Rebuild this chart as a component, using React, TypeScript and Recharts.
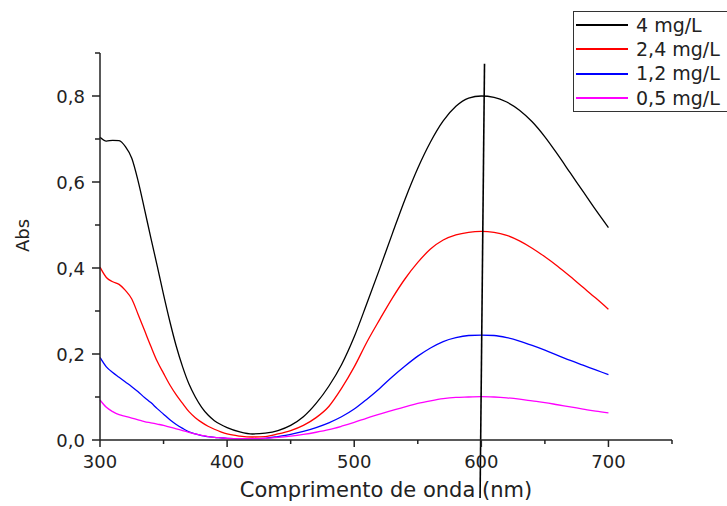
import { LineChart, Line, XAxis, YAxis, ReferenceLine } from 'recharts';

const wavelength = [
  300, 305, 310, 315, 320, 325, 330, 335, 340, 345, 350, 355, 360, 365, 370, 375, 380, 385, 390, 395, 400,
  410, 420, 430, 440, 450, 460, 470, 480, 490, 500, 510, 520, 530, 540, 550, 560, 570, 580, 590, 600,
  610, 620, 630, 640, 650, 660, 670, 680, 690, 700
];

const abs4 = [
  0.704, 0.695, 0.697, 0.696, 0.682, 0.655, 0.602, 0.537, 0.470, 0.405, 0.338, 0.275, 0.218, 0.170, 0.130, 0.100, 0.076, 0.058, 0.045, 0.036, 0.029,
  0.019, 0.014, 0.016, 0.022, 0.034, 0.054, 0.085, 0.125, 0.175, 0.240,
  0.318, 0.398, 0.480, 0.560, 0.632, 0.693, 0.742, 0.776, 0.795, 0.800,
  0.797, 0.786, 0.767, 0.740, 0.705, 0.664, 0.621, 0.578, 0.535, 0.494
];

const abs24 = [
  0.402, 0.378, 0.368, 0.362, 0.348, 0.328, 0.292, 0.255, 0.218, 0.183, 0.155, 0.128, 0.105, 0.085, 0.066, 0.052, 0.041, 0.032, 0.025, 0.019, 0.014,
  0.009, 0.007, 0.008, 0.014, 0.022, 0.034, 0.052, 0.078, 0.120, 0.170,
  0.228, 0.280, 0.330, 0.375, 0.413, 0.444, 0.465, 0.477, 0.483, 0.485,
  0.483, 0.476, 0.463, 0.446, 0.426, 0.404, 0.380, 0.355, 0.330, 0.304
];

const abs12 = [
  0.192, 0.170, 0.157, 0.146, 0.135, 0.124, 0.112, 0.099, 0.087, 0.073, 0.060, 0.047, 0.036, 0.027, 0.019, 0.014, 0.010, 0.008, 0.006, 0.005, 0.004,
  0.003, 0.003, 0.004, 0.008, 0.013, 0.020, 0.029, 0.040, 0.054, 0.072,
  0.095, 0.120, 0.147, 0.172, 0.195, 0.214, 0.229, 0.238, 0.243, 0.244,
  0.243, 0.238, 0.230, 0.220, 0.209, 0.197, 0.185, 0.174, 0.163, 0.152
];

const abs05 = [
  0.093, 0.076, 0.066, 0.059, 0.055, 0.051, 0.047, 0.043, 0.040, 0.037, 0.034, 0.030, 0.026, 0.022, 0.018, 0.014, 0.011, 0.008, 0.006, 0.005, 0.004,
  0.003, 0.003, 0.004, 0.006, 0.009, 0.013, 0.018, 0.024, 0.032, 0.041,
  0.051, 0.060, 0.069, 0.077, 0.085, 0.091, 0.096, 0.099, 0.100, 0.101,
  0.100, 0.098, 0.095, 0.091, 0.087, 0.082, 0.077, 0.072, 0.067, 0.063
];

const seriesKeys = ['c4', 'c24', 'c12', 'c05'];
const seriesNames = ['4 mg/L', '2,4 mg/L', '1,2 mg/L', '0,5 mg/L'];
const seriesColors = ['#000000', '#ff0000', '#0000ff', '#ff00ff'];

const xTicks = [300, 350, 400, 450, 500, 550, 600, 650, 700, 750];
const yTicks = [0, 0.1, 0.2, 0.3, 0.4, 0.5, 0.6, 0.7, 0.8, 0.9];

// stray vertical trace near 600 nm in the original plot
const spike = [
  { x: 602.5, y: 0.875 },
  { x: 599, y: -0.135 }
];

const FONT = '"DejaVu Sans", sans-serif';
const INK = '#222';

const data = wavelength.map((nm, i) => ({
  nm,
  c4: abs4[i],
  c24: abs24[i],
  c12: abs12[i],
  c05: abs05[i]
}));

const YTick = ({ x, y, payload }: any) => {
  const v = payload.value;
  const major = Math.round(v * 10) % 2 === 0 && v < 0.85;
  return (
    <g>
      <line x1={x} x2={x - (major ? 8 : 5)} y1={y} y2={y} stroke={INK} strokeWidth={1.5} />
      {major && (
        <text x={x - 15} y={y} textAnchor="end" dominantBaseline="central" fill={INK} fontSize={18} fontFamily={FONT}>
          {v.toFixed(1).replace('.', ',')}
        </text>
      )}
    </g>
  );
};

const XTick = ({ x, y, payload }: any) => {
  const v = payload.value;
  const major = v % 100 === 0;
  return (
    <g>
      <line x1={x} x2={x} y1={y} y2={y + (major ? 7 : 4)} stroke={INK} strokeWidth={1.5} />
      {major && (
        <text x={x} y={y + 28} textAnchor="middle" fill={INK} fontSize={18} fontFamily={FONT}>
          {v}
        </text>
      )}
    </g>
  );
};

const YTitle = ({ viewBox }: any) => {
  const cx = viewBox.x + 22;
  const cy = viewBox.y + viewBox.height / 2 - 11;
  return (
    <text x={cx} y={cy} transform={`rotate(-90 ${cx} ${cy})`} textAnchor="middle" dominantBaseline="central"
      fill={INK} fontSize={18} fontFamily={FONT}>
      Abs
    </text>
  );
};

export default function App() {
  return (
    <div style={{ position: 'absolute', left: 0, top: 0, width: 727, height: 506, overflow: 'hidden', background: '#fff' }}>
      <LineChart width={727} height={506} data={data} margin={{ top: 53, right: 55, bottom: 0, left: 0 }}>
        <XAxis
          dataKey="nm"
          type="number"
          domain={[300, 750]}
          ticks={xTicks}
          height={66}
          stroke={INK}
          strokeWidth={1.5}
          tickLine={false}
          tickSize={0}
          tickMargin={0}
          tick={(p: any) => <XTick {...p} />}
          label={{ value: 'Comprimento de onda (nm)', position: 'insideBottom', offset: 9, style: { fontSize: 21, fontFamily: FONT, fill: INK } }}
        />
        <YAxis
          type="number"
          domain={[0, 0.9]}
          ticks={yTicks}
          width={100}
          stroke={INK}
          strokeWidth={1.5}
          tickLine={false}
          tickSize={0}
          tickMargin={0}
          tick={(p: any) => <YTick {...p} />}
          label={{ value: 'Abs', content: (p: any) => <YTitle {...p} /> }}
        />
        {seriesKeys.map((k, i) => (
          <Line
            key={k}
            type="monotone"
            dataKey={k}
            name={seriesNames[i]}
            stroke={seriesColors[i]}
            strokeWidth={1.3}
            dot={false}
            isAnimationActive={false}
          />
        ))}
        <ReferenceLine segment={spike} stroke="#000" strokeWidth={1.6} ifOverflow="visible" />
      </LineChart>
      <div
        style={{
          position: 'absolute', left: 573, top: 11, width: 170, height: 101,
          border: '1px solid #333', background: '#fff', boxSizing: 'border-box',
          fontFamily: FONT, fontSize: 19, color: INK, paddingTop: 1
        }}
      >
        {seriesNames.map((name, i) => (
          <div key={name} style={{ display: 'flex', alignItems: 'center', height: 24.3 }}>
            <div style={{ width: 52, height: 2, marginLeft: 2, background: seriesColors[i] }} />
            <span style={{ marginLeft: 8, lineHeight: 1 }}>{name}</span>
          </div>
        ))}
      </div>
    </div>
  );
}
